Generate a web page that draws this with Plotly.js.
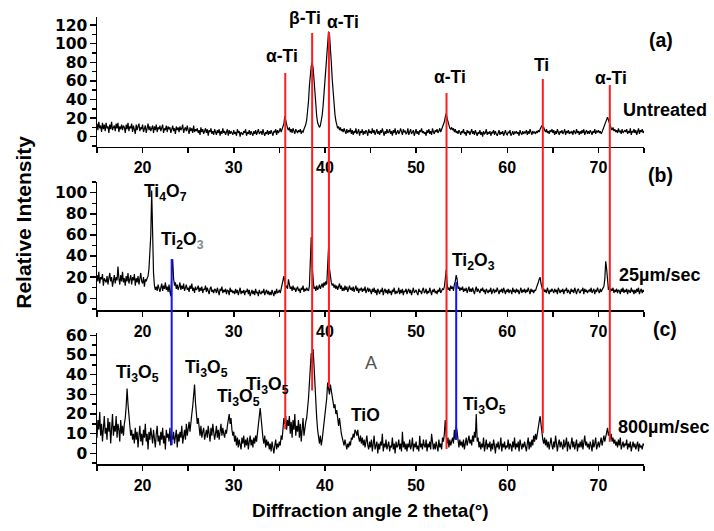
<!DOCTYPE html>
<html><head><meta charset="utf-8">
<script src="https://cdn.plot.ly/plotly-3.0.1.min.js"></script>
<style>html,body{margin:0;padding:0;background:#fff}#chart{width:714px;height:531px}</style>
</head><body><div id="chart"></div>
<script>
// 2-theta grid: 15.0 .. 75.0, step 0.1
const thetaStart = 15, thetaStep = 0.1;

const untreated = [
14,7,16,9,12,5,15,8,13,6, 15,9,11,4,13,8,16,7,10,12, 6,14,9,15,5,11,8,13,7,12, 10,4,13,8,15,6,11,9,14,5,
12,8,3,13,7,11,14,6,10,8, 13,5,9,12,4,10,14,7,11,6, 9,12,4,11,7,13,5,10,8,12, 6,10,13,4,9,7,12,5,11,8,
10,4,8,12,6,9,3,11,7,10, 5,11,7,9,13,4,8,10,6,12, 7,3,10,6,9,4,12,5,8,6, 9,4,7,2,10,5,8,3,6,9,
4,8,1,7,5,9,3,6,2,8, 5,2,7,4,8,1,6,3,9,4, 6,2,5,8,1,7,3,6,4,2, 7,3,5,1,8,4,6,0,5,3,
2,6,4,8,1,5,3,7,2,6, 4,1,6,3,7,2,5,8,3,4, 6,2,8,4,1,5,3,7,2,6, 3,7,4,1,6,5,8,2,7,4,
6,9,5,8,10,14,22,17,12,9, 7,10,5,8,4,9,6,3,8,5, 4,7,5,8,3,6,5,8,10,13, 18,26,38,55,72,76,80,74,62,46,
32,22,15,12,10,12,16,23,33,47, 64,80,96,108,113,110,98,80,62,46, 33,24,17,12,9,11,7,10,6,8, 5,9,6,3,8,4,7,5,9,3,
7,2,6,4,9,3,5,8,1,6, 4,8,2,6,3,7,5,1,8,4, 6,3,9,4,7,2,5,8,3,6, 2,7,4,9,5,1,6,3,8,4,
5,8,3,6,1,7,4,9,2,5, 7,3,5,9,4,2,8,5,6,3, 4,9,2,6,8,3,5,7,1,6, 8,3,6,2,7,5,9,4,6,3,
5,1,7,4,8,3,6,2,9,5, 3,7,5,8,4,6,9,5,8,10, 12,16,21,25,20,15,11,9,8,10, 7,9,5,8,4,6,3,7,5,2,
6,4,8,3,5,1,7,4,6,2, 5,8,3,6,2,7,4,1,5,3, 7,2,5,0,6,3,4,8,2,5, 3,6,1,5,4,7,2,6,3,1,
4,7,2,5,3,6,1,4,7,3, 2,5,4,7,1,3,6,2,5,4, 6,3,5,1,7,4,2,6,3,5, 4,7,2,6,3,8,5,2,6,4,
5,3,6,4,7,5,8,10,12,9, 10,7,5,8,4,6,3,7,5,8, 4,7,2,6,3,8,5,2,6,4, 7,3,5,8,2,6,4,7,3,5,
4,6,2,7,5,3,8,4,6,2, 6,3,7,4,8,2,5,7,3,6, 3,7,5,2,6,4,8,3,6,5, 7,4,6,3,5,8,10,13,16,19,
21,18,14,11,9,7,10,6,8,5, 7,4,9,5,6,3,8,4,6,7, 5,8,3,6,4,9,2,6,5,8, 4,7,2,6,9,3,7,5,8,4,
6];

const rate25 = [
22,16,25,14,20,18,23,12,19,17, 15,21,13,19,24,16,20,11,18,22, 14,20,17,30,19,13,22,16,25,15, 19,12,21,16,24,14,18,22,13,20,
17,23,12,19,15,21,13,18,24,16, 14,20,11,18,16,19,21,28,42,60, 102,58,24,12,8,11,7,13,9,6, 10,14,7,12,9,15,8,11,6,13,
6,2,24,37,19,12,15,9,13,8, 11,15,8,12,9,14,7,11,13,8, 10,6,12,9,14,7,10,5,11,8, 9,12,6,10,7,11,5,9,8,12,
6,10,7,4,9,11,6,8,5,9, 8,5,10,6,3,9,7,11,5,8, 6,9,4,8,7,3,10,6,8,5, 7,4,9,5,8,3,6,10,4,7,
5,8,3,7,6,9,4,8,2,6, 8,4,7,3,9,5,6,2,8,5, 4,7,5,9,3,6,8,4,7,3, 6,3,8,5,2,7,4,9,5,6,
8,5,9,12,19,21,14,10,12,9, 18,13,9,11,7,12,8,10,6,9, 11,7,9,5,10,8,12,6,9,7, 10,8,7,12,30,58,30,14,9,11,
7,12,8,10,13,9,11,14,10,15, 12,16,13,30,48,28,20,15,12,14, 10,13,9,12,8,11,14,9,12,7, 10,7,12,8,11,6,9,12,8,10,
7,11,6,9,12,7,10,5,9,8, 10,6,9,7,11,5,8,10,6,9, 7,4,9,6,10,5,8,3,9,6, 4,8,6,10,3,7,9,5,8,4,
9,5,7,3,8,6,10,4,7,5, 6,10,4,8,5,9,3,7,6,9, 4,7,9,5,8,3,6,10,5,7, 8,5,3,9,6,7,4,8,10,5,
6,9,4,7,5,10,6,3,8,6, 9,5,7,4,8,6,10,5,7,9, 8,11,18,27,14,8,10,7,12,9, 11,7,13,16,22,18,9,11,7,10,
8,11,6,9,7,10,5,8,11,6, 9,6,10,7,4,8,11,6,9,7, 5,9,7,10,6,8,4,9,7,5, 8,6,10,4,7,9,5,8,6,10,
7,4,8,6,9,5,10,7,4,8, 6,9,5,8,7,4,10,6,8,5, 9,6,8,4,7,10,5,8,6,9, 5,8,6,10,7,4,9,6,8,5,
8,7,10,12,15,18,20,14,10,7, 9,6,8,5,10,7,4,8,6,9, 7,5,9,6,8,4,10,7,5,8, 6,9,4,8,7,10,5,8,6,4,
9,6,8,5,10,7,4,8,9,6, 5,8,7,10,4,9,6,8,5,7, 8,6,10,5,7,9,4,8,6,10, 7,5,9,6,8,10,11,18,35,28,
12,8,10,6,9,7,10,5,8,6, 9,5,8,7,4,9,6,10,5,8, 6,9,4,8,7,5,10,6,8,4, 8,5,9,6,10,4,7,9,5,8,
6];

const rate800 = [
8,17,12,21,9,15,6,14,19,10, 13,7,18,11,16,5,12,20,9,14, 11,19,8,15,12,6,17,10,14,9, 15,18,24,33,25,18,13,9,12,7,
10,5,13,7,11,3,9,14,6,10, 4,12,8,15,6,10,2,11,7,13, 9,5,12,8,3,10,14,6,9,4, 11,7,13,5,9,2,12,8,10,6,
13,4,9,7,11,5,8,12,3,10, 6,11,8,14,5,10,12,7,15,9, 12,16,11,17,20,24,30,35,26,20, 15,18,12,9,14,8,11,13,7,10,
12,8,14,10,6,13,9,15,11,7, 10,14,8,12,7,11,15,9,13,10, 8,12,10,14,17,20,15,18,12,9, 11,6,9,4,8,3,7,5,2,8,
5,9,3,7,4,8,2,6,9,4, 7,3,8,5,9,6,10,15,20,23, 18,12,8,5,9,3,7,4,6,2, 5,1,6,3,0,4,7,2,5,3,
6,4,9,7,13,18,15,19,12,17, 14,19,10,16,8,17,12,20,9,14, 11,17,8,15,6,13,18,9,14,16, 18,22,28,36,44,51,46,53,45,34,
26,18,12,8,5,9,4,7,11,15, 17,22,28,36,33,30,35,32,28,26, 23,25,20,22,17,14,18,12,10,8, 6,4,7,3,2,5,3,6,4,8,
7,10,8,12,11,9,12,8,6,9, 5,8,4,7,3,6,9,4,2,6, 3,7,1,5,9,2,4,6,0,5, 2,6,4,10,1,5,3,7,2,4,
6,1,4,3,8,2,5,0,6,3, 4,7,2,5,1,11,3,6,2,5, 1,5,3,7,2,4,8,1,5,3, 6,2,4,1,9,3,5,2,7,4,
3,7,1,5,3,6,2,10,4,2, 5,2,6,4,1,7,3,5,2,8, 6,10,17,9,5,8,3,7,4,6, 8,5,12,7,14,11,6,3,7,4,
6,3,7,2,5,8,4,6,9,5, 7,4,9,6,11,8,20,6,8,3, 6,2,5,3,8,1,4,7,2,5, 3,6,1,5,2,7,4,0,5,3,
6,2,4,8,1,5,3,6,2,4, 3,7,2,5,4,1,6,3,8,2, 5,3,6,1,7,4,2,5,3,6, 4,1,5,8,2,6,3,7,4,9,
6,10,7,11,13,16,19,14,9,7, 5,8,4,7,3,6,2,5,8,4, 2,6,3,9,4,1,5,7,3,6, 4,2,7,3,5,8,1,6,4,2,
5,8,3,6,2,4,7,1,5,3, 6,3,7,2,5,9,4,6,3,5, 2,6,4,1,7,3,5,8,2,4, 6,3,5,8,4,7,9,6,8,10,
13,9,11,7,10,6,8,5,7,4, 6,3,7,4,8,2,5,6,3,5, 4,7,2,5,3,6,1,4,6,3, 5,2,4,6,1,5,3,4,2,5,
4];

// reference phase lines: 2-theta, top intensity (panel a or b), bottom intensity (panel c)
const redLinePos    = [35.65, 38.6, 40.44, 53.34, 63.9, 71.25];
const redLineTop    = [68.5, 111.5, 112.6, 47, 62, 55.6];   // panel (a) units
const redLineBottom = [12.3, 32, 33.8, 2.2, 10.3, 5.9];     // panel (c) units
const blueLinePos    = [23.19, 54.4];
const blueLineTop    = [37.2, 15.4];                          // panel (b) units
const blueLineBottom = [4.2, 6.8];                            // panel (c) units

const xTickVals = [20, 30, 40, 50, 60, 70];

const twoTheta = untreated.map((_, i) => +(thetaStart + i * thetaStep).toFixed(1));

const blk = '#000';
const fam = 'Arial, "Liberation Sans", sans-serif';
const tickFontX = {family: fam, size: 16, color: blk, weight: 'bold'};
const tickFontY = {family: '"DejaVu Sans", sans-serif', size: 15.5, color: blk, weight: 'bold'};

function xa(anchor) {
  return {anchor: anchor, domain: [0, 1], range: [15, 75], showline: true, linecolor: blk, linewidth: 1.5,
    ticks: 'outside', ticklen: 5, tickwidth: 1.5, tickcolor: blk, tickvals: xTickVals, ticklabelstandoff: 1,
    minor: {tickvals: [15, 25, 35, 45, 55, 65, 75], ticks: 'outside', ticklen: 5, tickwidth: 1.5, tickcolor: blk},
    showgrid: false, zeroline: false, tickfont: tickFontX, fixedrange: true};
}
function ya(anchor, dom, rng, dtick, mdtick) {
  return {anchor: anchor, domain: dom, range: rng, showline: true, linecolor: blk, linewidth: 1.5,
    ticks: 'outside', ticklen: 6, tickwidth: 1.5, tickcolor: blk, tick0: 0, dtick: dtick, ticklabelstandoff: -1,
    minor: {tick0: 0, dtick: mdtick, ticks: 'outside', ticklen: 4, tickwidth: 1.5, tickcolor: blk},
    showgrid: false, zeroline: false, tickfont: tickFontY, fixedrange: true};
}

const layout = {
  width: 714, height: 531,
  margin: {l: 97, r: 70, t: 17, b: 67},
  paper_bgcolor: '#fff', plot_bgcolor: 'rgba(0,0,0,0)',
  showlegend: false,
  xaxis: xa('y'), xaxis2: xa('y2'), xaxis3: xa('y3'),
  yaxis: ya('x', [0.710, 1.0], [-10.7, 128.7], 20, 10),
  yaxis2: ya('x2', [0.3445, 0.6315], [-11.1, 110.4], 20, 10),
  yaxis3: ya('x3', [0, 0.293], [-5.4, 61.2], 10, 5),
  font: {family: fam, color: blk},
  shapes: [], annotations: []
};

function toPaper(v, ax) {
  return ax.domain[0] + (v - ax.range[0]) / (ax.range[1] - ax.range[0]) * (ax.domain[1] - ax.domain[0]);
}
redLinePos.forEach((p, i) => layout.shapes.push({type: 'line', xref: 'x', yref: 'paper', x0: p, x1: p,
  y0: toPaper(redLineBottom[i], layout.yaxis3), y1: toPaper(redLineTop[i], layout.yaxis),
  line: {color: 'rgb(255,30,30)', width: 2}}));
blueLinePos.forEach((p, i) => layout.shapes.push({type: 'line', xref: 'x', yref: 'paper', x0: p, x1: p,
  y0: toPaper(blueLineBottom[i], layout.yaxis3), y1: toPaper(blueLineTop[i], layout.yaxis2),
  line: {color: 'rgb(20,20,255)', width: 2}}));

const lab = 17.5;
function ann(text, x, y, yref, size, extra) {
  return Object.assign({text: text, x: x, y: y, xref: 'x', yref: yref, showarrow: false,
    xanchor: 'center', yanchor: 'middle', font: {family: fam, size: size, color: blk, weight: 'bold'}}, extra || {});
}
const T35 = 'Ti<sub>3</sub>O<sub>5</sub>';
layout.annotations.push(
  ann('α-Ti', 35.3, 86.8, 'y', lab),
  ann('β-Ti', 37.8, 127.6, 'y', lab),
  ann('α-Ti', 42.0, 123, 'y', lab),
  ann('α-Ti', 53.7, 64, 'y', lab),
  ann('Ti', 63.8, 77, 'y', lab),
  ann('α-Ti', 71.4, 63, 'y', lab),
  ann('Ti<sub>4</sub>O<sub>7</sub>', 22.5, 100, 'y2', lab),
  ann('Ti<sub>2</sub>O<sub><span style="color:#888">3</span></sub>', 24.4, 55, 'y2', lab),
  ann('Ti<sub>2</sub>O<sub>3</sub>', 56.3, 34.4, 'y2', lab),
  ann(T35, 19.4, 40.8, 'y3', lab),
  ann(T35, 27.0, 43.3, 'y3', lab),
  ann(T35, 30.5, 28.6, 'y3', lab),
  ann(T35, 33.75, 34.7, 'y3', lab),
  ann('A', 45.0, 45.9, 'y3', lab, {font: {family: fam, size: 18, color: '#555'}}),
  ann('TiO', 44.4, 19.5, 'y3', lab),
  ann(T35, 57.5, 24.5, 'y3', lab),
  ann('Untreated', 0.958, 28.6, 'y', 18, {xref: 'paper', xanchor: 'left'}),
  ann('25µm/sec', 0.951, 22, 'y2', 18, {xref: 'paper', xanchor: 'left'}),
  ann('800µm/sec', 0.949, 13.4, 'y3', 18, {xref: 'paper', xanchor: 'left'}),
  ann('(a)', 1.031, 0.9485, 'paper', 19.5, {xref: 'paper'}),
  ann('(b)', 1.031, 0.6465, 'paper', 19.5, {xref: 'paper'}),
  ann('(c)', 1.038, 0.302, 'paper', 19.5, {xref: 'paper'}),
  ann('Relative Intensity', -0.135, 0.54, 'paper', 21, {xref: 'paper', textangle: -90}),
  ann('Diffraction angle 2 theta(°)', 0.5, -0.103, 'paper', 19, {xref: 'paper'})
);

const line = {color: blk, width: 1.2};
const data = [
  {x: twoTheta, y: untreated, xaxis: 'x', yaxis: 'y', type: 'scatter', mode: 'lines', line: line, name: 'Untreated'},
  {x: twoTheta, y: rate25, xaxis: 'x2', yaxis: 'y2', type: 'scatter', mode: 'lines', line: line, name: '25µm/sec'},
  {x: twoTheta, y: rate800, xaxis: 'x3', yaxis: 'y3', type: 'scatter', mode: 'lines', line: line, name: '800µm/sec'}
];

Plotly.newPlot('chart', data, layout, {displayModeBar: false, staticPlot: true});
</script></body></html>
